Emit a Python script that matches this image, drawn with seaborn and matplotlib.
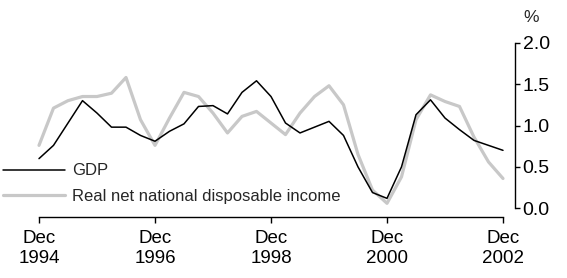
import matplotlib
matplotlib.use("Agg")
import matplotlib.pyplot as plt
from matplotlib.lines import Line2D
import seaborn as sns
import pandas as pd
import numpy as np

# Quarterly periods, Dec 1994 .. Dec 2002
quarters = pd.period_range("1994Q4", "2002Q4", freq="Q")
gdp = [0.60, 0.76, 1.03, 1.30, 1.15, 0.98, 0.98, 0.88, 0.81, 0.93, 1.02,
       1.23, 1.24, 1.14, 1.40, 1.54, 1.35, 1.03, 0.91, 0.98, 1.05, 0.88,
       0.50, 0.19, 0.12, 0.50, 1.13, 1.31, 1.09, 0.95, 0.82, 0.76, 0.70]
income = [0.76, 1.21, 1.30, 1.35, 1.35, 1.39, 1.58, 1.07, 0.76, 1.09, 1.40,
          1.35, 1.15, 0.91, 1.11, 1.17, 1.03, 0.89, 1.15, 1.35, 1.48, 1.25,
          0.65, 0.22, 0.06, 0.38, 1.07, 1.37, 1.29, 1.23, 0.86, 0.56, 0.36]
series_names = ["GDP", "Real net national disposable income"]
tick_labels = ["Dec\n1994", "Dec\n1996", "Dec\n1998", "Dec\n2000", "Dec\n2002"]
y_ticks = [0.0, 0.5, 1.0, 1.5, 2.0]

sns.set_style("ticks")
plt.rcParams["font.family"] = ["Liberation Sans", "DejaVu Sans"]

idx = np.arange(len(quarters))
df = pd.concat([
    pd.DataFrame({"q": idx, "value": gdp, "series": series_names[0]}),
    pd.DataFrame({"q": idx, "value": income, "series": series_names[1]}),
])

W, H = 567, 278
fig = plt.figure(figsize=(W / 100, H / 100), dpi=100)
x0, x1 = 39, 503
y0, y1 = 208.3, 42.7
ax = fig.add_axes([x0 / W, (H - y0) / H, (x1 - x0) / W, (y0 - y1) / H])

palette = {series_names[0]: "#000000", series_names[1]: "#c8c8c8"}
sns.lineplot(data=df, x="q", y="value", hue="series", hue_order=series_names[::-1],
             palette=palette, ax=ax, legend=False, estimator=None)
lines = ax.get_lines()
lines[0].set_linewidth(2.3)
lines[1].set_linewidth(1.1)
for ln in lines:
    ln.set_clip_on(False)

ax.set_xlim(0, len(quarters) - 1)
ax.set_ylim(0, 2)
ax.set_xlabel("")
ax.set_ylabel("")

ax.set_xticks([0, 8, 16, 24, 32])
ax.set_xticklabels(tick_labels, linespacing=1.55)
ax.yaxis.tick_right()
ax.set_yticks(y_ticks)
ax.set_yticklabels([f"{v:.1f}" for v in y_ticks])

for s in ["top", "left"]:
    ax.spines[s].set_visible(False)
ax.spines["right"].set_visible(True)
ax.spines["bottom"].set_position(("outward", 9 * 0.72))
ax.spines["right"].set_position(("outward", 12 * 0.72))
for s in ["bottom", "right"]:
    ax.spines[s].set_linewidth(1.0)
    ax.spines[s].set_color("black")

ax.tick_params(axis="x", direction="out", length=4.5, width=1.0, pad=5,
               labelsize=13.5, colors="black")
ax.tick_params(axis="y", direction="out", length=3.5, width=1.0, pad=2,
               labelsize=14, colors="black")

ax.text(1.0 + 28 / (x1 - x0), 1.0 + 18 / (y0 - y1), "%", transform=ax.transAxes,
        ha="center", va="bottom", fontsize=12.5)

handles = [Line2D([], [], color="#000000", lw=1.1),
           Line2D([], [], color="#c8c8c8", lw=2.3)]
fig.legend(handles, series_names, loc="upper left",
           bbox_to_anchor=(0 / W, 1 - 160 / H), frameon=False,
           fontsize=12, handlelength=3.7, handletextpad=0.45,
           labelspacing=0.62, borderaxespad=0, borderpad=0.2)

fig.savefig("out.png", dpi=100)
